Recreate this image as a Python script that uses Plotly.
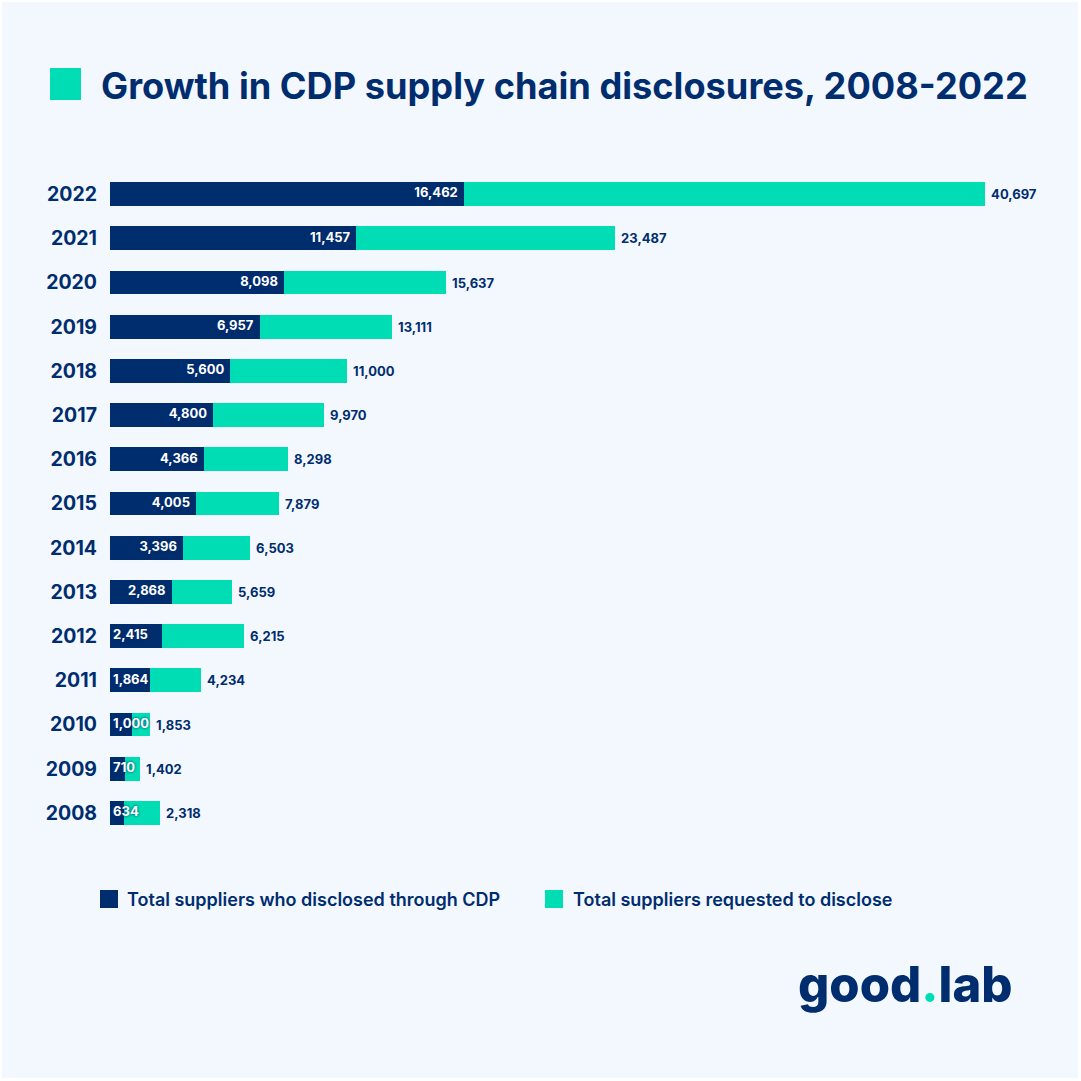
import plotly.graph_objects as go

# ---- data ----
years = ["2022", "2021", "2020", "2019", "2018", "2017", "2016", "2015",
         "2014", "2013", "2012", "2011", "2010", "2009", "2008"]
disclosed = [16462, 11457, 8098, 6957, 5600, 4800, 4366, 4005,
             3396, 2868, 2415, 1864, 1000, 710, 634]
requested = [40697, 23487, 15637, 13111, 11000, 9970, 8298, 7879,
             6503, 5659, 6215, 4234, 1853, 1402, 2318]
series_names = ["Total suppliers who disclosed through CDP",
                "Total suppliers requested to disclose"]
title_text = "Growth in CDP supply chain disclosures, 2008-2022"

# ---- style ----
NAVY = "#002D6E"
TEAL = "#00DDB4"
BG = "#F3F8FF"
FONT = "Inter"
W = H = 1081
L, R_EDGE, T, B = 110, 1041, 172, 835
XMAX = max(requested) * (R_EDGE - L) / 875


def px(x):
    return (x - L) / (R_EDGE - L)


def py(y):
    return (B - y) / (B - T)


fig = go.Figure()
fig.add_bar(
    y=years, x=requested, orientation="h", name=series_names[1],
    marker=dict(color=TEAL, line=dict(width=0)), width=0.54,
    texttemplate="\u00a0%{x:,}", textposition="outside", cliponaxis=False,
    textfont=dict(color=NAVY, size=13, family=FONT, weight=700),
    showlegend=False,
)
fig.add_bar(
    y=years, x=disclosed, orientation="h", name=series_names[0],
    marker=dict(color=NAVY, line=dict(width=0)), width=0.54,
    showlegend=False,
)

# labels of the disclosed values: inside the navy bar when they fit,
# otherwise starting from the bar origin
unit_px = (R_EDGE - L) / XMAX
lab_x, lab_pos, lab_txt = [], [], []
for d in disclosed:
    s = f"{d:,}"
    if d * unit_px >= len(s) * 7.6 + 14:
        lab_x.append(d)
        lab_pos.append("middle left")
        lab_txt.append(s + "\u00a0\u00a0")
    else:
        lab_x.append(0)
        lab_pos.append("middle right")
        lab_txt.append("\u00a0" + s)
fig.add_scatter(
    y=years, x=lab_x, mode="text", text=lab_txt, textposition=lab_pos,
    cliponaxis=False, showlegend=False, hoverinfo="skip",
    textfont=dict(color="white", size=13, family=FONT, weight=700,
                  shadow="0px 0px 3px #002D6E"),
)

shapes = [
    dict(type="rect", xref="paper", yref="paper", x0=px(2), x1=px(1078),
         y0=py(1078), y1=py(2), fillcolor=BG, line=dict(width=0), layer="below"),
    dict(type="rect", xref="paper", yref="paper", x0=px(50), x1=px(81),
         y0=py(100), y1=py(68), fillcolor=TEAL, line=dict(width=0)),
    dict(type="rect", xref="paper", yref="paper", x0=px(100), x1=px(118),
         y0=py(908), y1=py(890), fillcolor=NAVY, line=dict(width=0)),
    dict(type="rect", xref="paper", yref="paper", x0=px(545), x1=px(563),
         y0=py(908), y1=py(890), fillcolor=TEAL, line=dict(width=0)),
]

annotations = [
    dict(text=title_text, xref="paper", yref="paper", x=px(99), y=py(86),
         xanchor="left", yanchor="middle", showarrow=False,
         font=dict(family=FONT, size=36.2, color=NAVY, weight=700)),
    dict(text=series_names[0], xref="paper", yref="paper", x=px(125), y=py(899),
         xanchor="left", yanchor="middle", showarrow=False,
         font=dict(family=FONT, size=18, color=NAVY, weight=600)),
    dict(text=series_names[1], xref="paper", yref="paper", x=px(571), y=py(899),
         xanchor="left", yanchor="middle", showarrow=False,
         font=dict(family=FONT, size=18, color=NAVY, weight=600)),
    dict(text="good<span style='color:%s'>.</span>lab" % TEAL, xref="paper",
         yref="paper", x=px(905), y=py(984), xanchor="center", yanchor="middle",
         showarrow=False,
         font=dict(family=FONT, size=49, color=NAVY, weight=800)),
]

fig.update_layout(
    width=W, height=H,
    margin=dict(l=L, r=W - R_EDGE, t=T, b=H - B, pad=0),
    paper_bgcolor="white", plot_bgcolor=BG,
    barmode="overlay", bargap=0,
    shapes=shapes, annotations=annotations,
    showlegend=False,
    xaxis=dict(visible=False, range=[0, XMAX], fixedrange=True),
    yaxis=dict(type="category", range=[len(years) - 0.5, -0.5], ticks="",
               showgrid=False, showline=False, zeroline=False,
               ticklabelstandoff=12, fixedrange=True,
               tickfont=dict(family=FONT, size=19.5, color=NAVY, weight=700)),
)

fig.write_html("out.html")
